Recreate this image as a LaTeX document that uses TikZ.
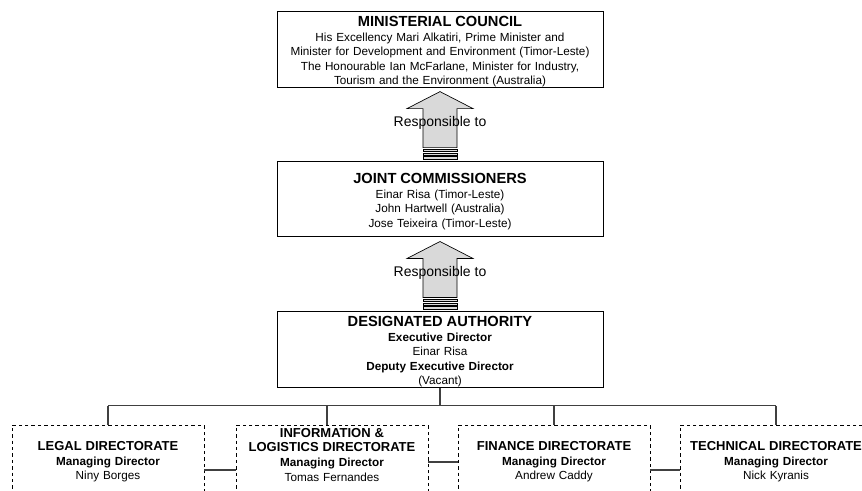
\documentclass[tikz,border=0pt]{standalone}
\usepackage{fontspec}
\setmainfont{Liberation Sans}
\usetikzlibrary{calc}

\tikzset{
  mainbox/.style={draw, line width=0.75pt, align=center, text width=244.5pt,
    inner xsep=0pt, inner ysep=0pt, minimum height=56.25pt,
    font=\fontsize{8.8}{10.9}\selectfont},
  dirbox/.style={draw, dash pattern=on 2.6pt off 2.2pt, line width=0.6pt,
    align=center, text width=144pt, inner xsep=0pt, inner ysep=0pt,
    minimum height=55.5pt, font=\fontsize{8.8}{11}\selectfont},
  link/.style={draw=black!75, line width=0.8pt},
  blockarrow/.style={draw, fill=black!15, line width=0.5pt},
  stripe/.style={draw, fill=black!15, line width=0.35pt},
  resptext/.style={font=\fontsize{10.5}{12}\selectfont}
}
\newcommand{\boxtitle}[1]{{\fontsize{11}{10.9}\selectfont\bfseries\rule{0pt}{11pt}#1}}
\newcommand{\dirtitle}[1]{{\fontsize{9.75}{11}\selectfont\bfseries #1}}

\begin{document}
\begin{tikzpicture}[x=0.75pt, y=-0.75pt]
    \useasboundingbox (0,0) rectangle (862,491);
    \clip (0,0) rectangle (862,491);

    % top boxes
    \node[mainbox] (mc) at (440,49.5) {\boxtitle{MINISTERIAL COUNCIL}\\
        His Excellency Mari Alkatiri, Prime Minister and\\
        Minister for Development and Environment (Timor-Leste)\\
        The Honourable Ian McFarlane, Minister for Industry,\\
        Tourism and the Environment (Australia)};
    \node[mainbox] (jc) at (440,199.5) {\boxtitle{JOINT COMMISSIONERS}\\
        Einar Risa (Timor-Leste)\\
        John Hartwell (Australia)\\
        Jose Teixeira (Timor-Leste)};
    \node[mainbox] (da) at (440,349.5) {\boxtitle{DESIGNATED AUTHORITY}\\
        \textbf{Executive Director}\\
        Einar Risa\\
        \textbf{Deputy Executive Director}\\
        (Vacant)};

    % directorates
    \node[dirbox] (legal) at (108,462) {\dirtitle{LEGAL DIRECTORATE}\\
        \textbf{Managing Director}\\ Niny Borges};
    \node[dirbox] (info) at (332,462) {\dirtitle{INFORMATION \&}\\
        \dirtitle{LOGISTICS DIRECTORATE}\\
        \textbf{Managing Director}\\ Tomas Fernandes\\ \mbox{}};
    \node[dirbox] (finance) at (554,462) {\dirtitle{FINANCE DIRECTORATE}\\
        \textbf{Managing Director}\\ Andrew Caddy};
    \node[dirbox] (tech) at (776,462) {\dirtitle{TECHNICAL DIRECTORATE}\\
        \textbf{Managing Director}\\ Nick Kyranis};

    % JC -> MC, DA -> JC
    \foreach \lo/\hi in {jc/mc, da/jc} {
        \coordinate (tip) at ($(\hi.south)+(0,4)$);
        \draw[blockarrow] (tip) -- ++(33,17) -- ++(-16,0) -- ++(0,39)
            -- ++(-34,0) -- ++(0,-39) -- ++(-16,0) -- cycle;
        \foreach \s in {57.5,61.3,65.1}
            \draw[stripe] ($(tip)+(-17,\s)$) rectangle ++(34,2.6);
        \node[resptext] (resp-\lo) at ($(tip)+(0,31)$) {Responsible to};
    }

    % DA -> directorates
    \draw[link] (da.south) -- ++(0,18) coordinate (bus);
    \draw[link] (legal.north |- bus) -- (tech.north |- bus);
    \foreach \d in {legal,finance,tech}
        \draw[link] (\d.north |- bus) -- (\d.north);
    \draw[link] ($(info.north)+(-5,0)$) coordinate (infotop) -- (infotop |- bus);

    % between directorates
    \draw[link] ($(legal.east)+(0,8)$) -- ($(info.west)+(0,8)$);
    \draw[link] (info.east) -- (finance.west);
    \draw[link] ($(finance.east)+(0,8)$) -- ($(tech.west)+(0,8)$);
\end{tikzpicture}
\end{document}
